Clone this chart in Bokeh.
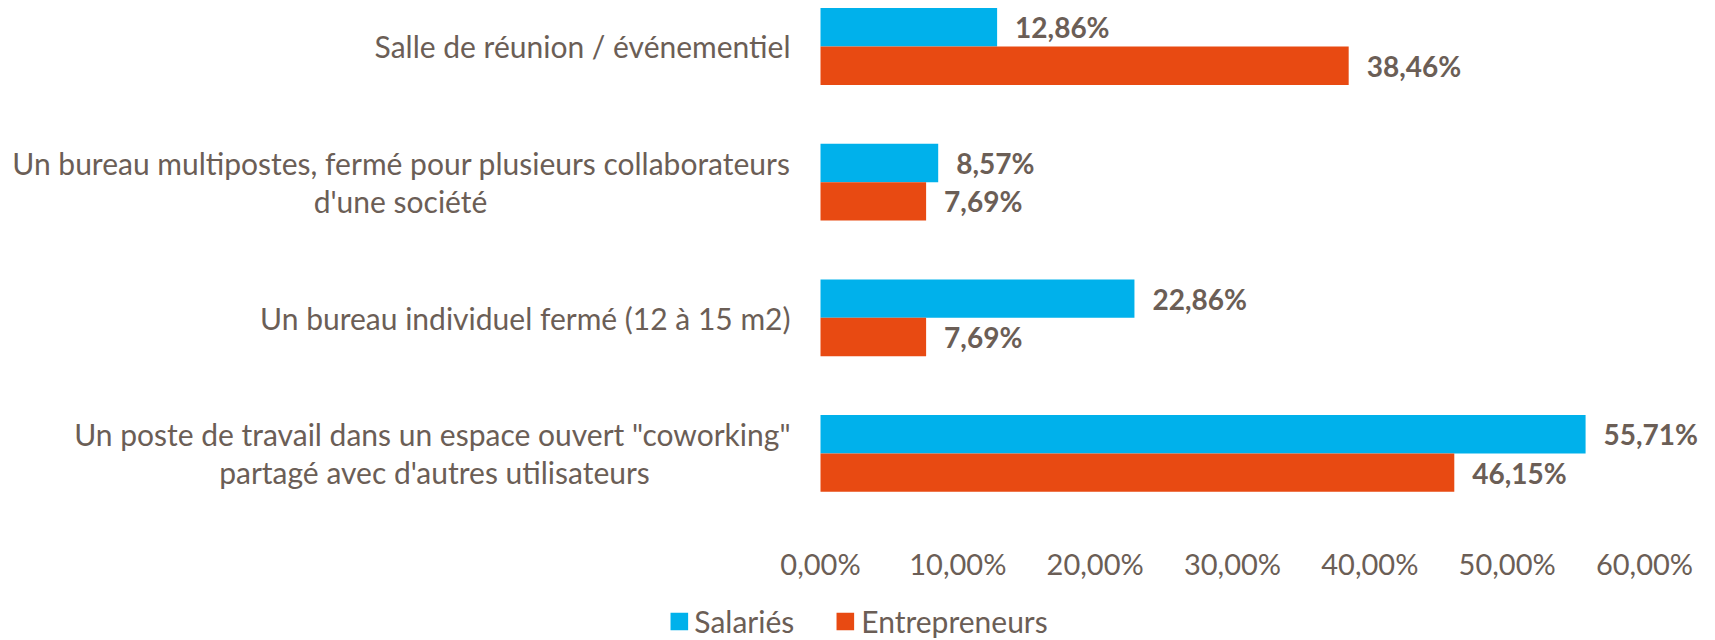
from bokeh.plotting import figure
from bokeh.layouts import column
from bokeh.models import Range1d, FixedTicker, ColumnDataSource, LabelSet, Label, Legend, LegendItem
from bokeh.core.properties import value
from bokeh.embed import file_html
from bokeh.resources import INLINE

categories = [
    ["Salle de réunion / événementiel"],
    ["Un bureau multipostes, fermé pour plusieurs collaborateurs", "d'une société"],
    ["Un bureau individuel fermé (12 à 15 m2)"],
    ["Un poste de travail dans un espace ouvert \"coworking\"", "partagé avec d'autres utilisateurs"],
]
salaries = [12.86, 8.57, 22.86, 55.71]
entrepreneurs = [38.46, 7.69, 7.69, 46.15]
series_names = ["Salariés", "Entrepreneurs"]
ticks = [0, 10, 20, 30, 40, 50, 60]
tick_labels = ["0,00%", "10,00%", "20,00%", "30,00%", "40,00%", "50,00%", "60,00%"]

BLUE = "#00B1EB"
ORANGE = "#E84A12"
TXT = "#6B5E56"
FONT = "Lato"
FS = "30px"
TICK_FS = "29px"

n = len(categories)
ypos = [n - 1 - i for i in range(n)]
bh = 0.283

def fmt(v):
    return f"{v:.2f}".replace(".", ",") + "%"

p = figure(width=1715, height=602, output_backend="svg", toolbar_location=None,
           x_range=Range1d(-59.71, 65.17), y_range=Range1d(-0.5015, 3.339),
           min_border_left=0, min_border_right=0, min_border_top=0, min_border_bottom=81)
p.outline_line_color = None
p.xgrid.visible = False
p.ygrid.visible = False
p.yaxis.visible = False

src_s = ColumnDataSource(dict(y=[y + bh / 2 for y in ypos], v=salaries, lab=[fmt(v) for v in salaries]))
src_e = ColumnDataSource(dict(y=[y - bh / 2 for y in ypos], v=entrepreneurs, lab=[fmt(v) for v in entrepreneurs]))

p.hbar(y="y", right="v", left=0, height=bh, source=src_s, fill_color=BLUE, line_color=None)
p.hbar(y="y", right="v", left=0, height=bh, source=src_e, fill_color=ORANGE, line_color=None)

for src in (src_s, src_e):
    p.add_layout(LabelSet(x="v", y="y", text="lab", source=src, x_offset=18,
                          text_baseline="middle", text_align="left",
                          text_font=value(FONT), text_font_style=value("bold"),
                          text_font_size=value("28px"), text_color=value(TXT)))

line_gap = 0.14
centers = {1: -420, 3: -386}
for i, lines in enumerate(categories):
    y = ypos[i]
    if len(lines) == 1:
        p.add_layout(Label(x=0, y=y, text=lines[0], x_offset=-30, text_align="right",
                           text_baseline="middle", text_font=FONT, text_font_size=FS,
                           text_color=TXT))
    else:
        p.add_layout(Label(x=0, y=y + line_gap, text=lines[0], x_offset=-30, text_align="right",
                           text_baseline="middle", text_font=FONT, text_font_size=FS,
                           text_color=TXT))
        p.add_layout(Label(x=0, y=y - line_gap, text=lines[1], x_offset=centers[i], text_align="center",
                           text_baseline="middle", text_font=FONT, text_font_size=FS,
                           text_color=TXT))

ax = p.xaxis[0]
ax.ticker = FixedTicker(ticks=ticks)
ax.major_label_overrides = {t: l for t, l in zip(ticks, tick_labels)}
ax.axis_line_color = None
ax.major_tick_line_color = None
ax.minor_tick_line_color = None
ax.major_tick_out = 0
ax.major_tick_in = 0
ax.major_label_standoff = 24
ax.major_label_text_font = FONT
ax.major_label_text_font_size = TICK_FS
ax.major_label_text_color = TXT

# legend strip
p2 = figure(width=1715, height=38, output_backend="svg", toolbar_location=None,
            x_range=Range1d(0, 1), y_range=Range1d(0, 1), min_border=0)
p2.outline_line_color = None
p2.xaxis.visible = False
p2.yaxis.visible = False
p2.xgrid.visible = False
p2.ygrid.visible = False
l1 = p2.hbar(y="y", right="v", left=0, height=bh, source=src_s, fill_color=BLUE, line_color=None, visible=False)
l2 = p2.hbar(y="y", right="v", left=0, height=bh, source=src_e, fill_color=ORANGE, line_color=None, visible=False)
legend = Legend(items=[LegendItem(label=series_names[0], renderers=[l1]),
                       LegendItem(label=series_names[1], renderers=[l2])],
                orientation="horizontal", location="center",
                padding=0, margin=0, spacing=40, label_standoff=5,
                glyph_width=22, glyph_height=22,
                border_line_color=None, background_fill_alpha=0,
                label_text_font=FONT, label_text_font_size=FS, label_text_color=TXT)
p2.add_layout(legend, "center")

layout = column(p, p2, spacing=0)
open("out.html", "w").write(file_html(layout, INLINE))
